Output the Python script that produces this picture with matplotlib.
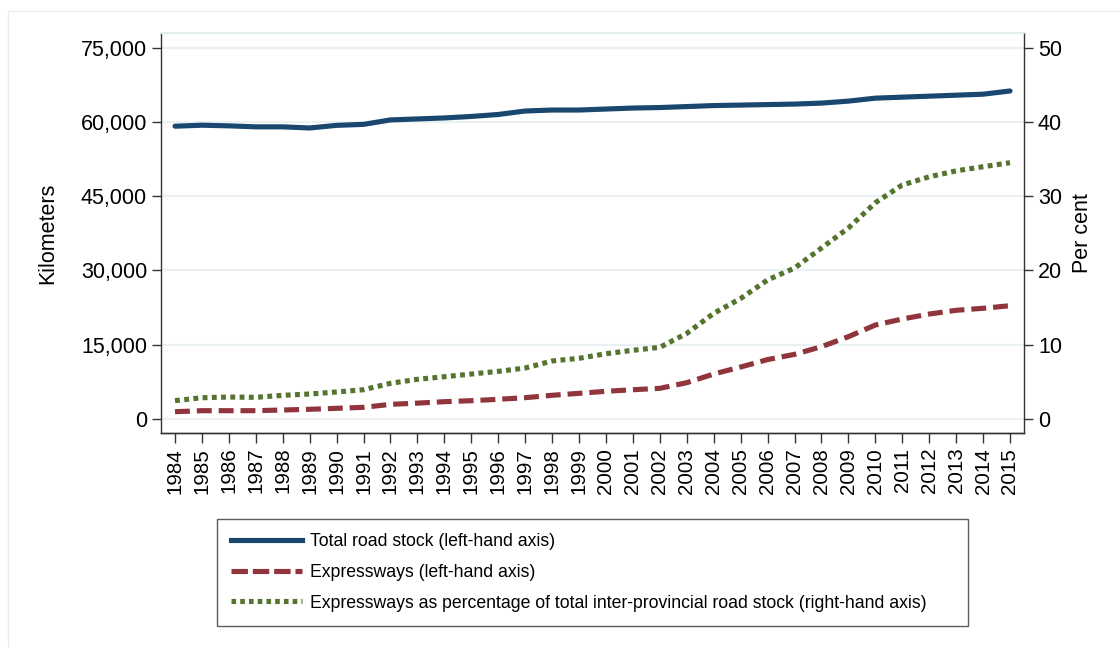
import matplotlib
matplotlib.use("Agg")
import matplotlib.pyplot as plt
from matplotlib.ticker import FuncFormatter, FixedLocator
from matplotlib.patches import Rectangle
from matplotlib.lines import Line2D

plt.rcParams['font.family'] = ['Liberation Sans', 'DejaVu Sans']

years = list(range(1984, 2016))
total_road_km = [59130, 59330, 59200, 59000, 59000, 58770, 59300, 59500, 60400, 60600,
                 60800, 61100, 61500, 62200, 62400, 62400, 62600, 62800, 62900, 63100,
                 63300, 63400, 63500, 63600, 63800, 64200, 64800, 65000, 65200, 65400,
                 65600, 66250]
expressway_km = [1415, 1620, 1620, 1620, 1760, 1900, 2100, 2300, 2900, 3150,
                 3440, 3640, 3920, 4250, 4730, 5130, 5540, 5860, 6140, 7280,
                 9040, 10450, 11950, 13010, 14560, 16580, 18940, 20150, 21160, 21910,
                 22320, 22840]
expressway_pct = [2.43, 2.83, 2.92, 2.88, 3.15, 3.33, 3.6, 3.91, 4.77, 5.31,
                  5.66, 6.02, 6.38, 6.83, 7.78, 8.14, 8.76, 9.22, 9.62, 11.5,
                  14.2, 16.2, 18.7, 20.3, 23.0, 25.7, 29.1, 31.5, 32.6, 33.4,
                  33.96, 34.5]
left_ticks = [0, 15000, 30000, 45000, 60000, 75000]
right_ticks = [0, 10, 20, 30, 40, 50]
labels = ["Total road stock (left-hand axis)",
          "Expressways (left-hand axis)",
          "Expressways as percentage of total inter-provincial road stock (right-hand axis)"]

navy = "#1a476f"
maroon = "#90353b"
green = "#55752f"
dark = "#333333"
grid_c = "#e9f1f3"

fig = plt.figure(figsize=(11.2, 6.47), dpi=100)
# faint outer frame (visible at left/top)
fig.patches.append(Rectangle((8/1120, -0.1), 2.0, 1 - 11/647 + 0.1, transform=fig.transFigure,
                             fill=False, edgecolor="#e6ecee", linewidth=1.0))

ax = fig.add_axes([161/1120, 1 - 433/647, (1024 - 161)/1120, (433 - 33)/647])
ax2 = ax.twinx()

ylo, yhi = -2890, 77970
ax.set_ylim(ylo, yhi)
ax2.set_ylim(ylo / 1500, yhi / 1500)
ax.set_xlim(1983.48, 2015.52)

ax.yaxis.set_major_locator(FixedLocator(left_ticks))
ax.yaxis.set_major_formatter(FuncFormatter(lambda v, p: f"{int(v):,}"))
ax2.yaxis.set_major_locator(FixedLocator(right_ticks))
ax.set_xticks(years)
ax.set_xticklabels([str(y) for y in years], rotation=90)

ax.grid(axis='y', color=grid_c, linewidth=1.5)
ax.set_axisbelow(True)

lw = 3.7
ax.plot(years, total_road_km, color=navy, linewidth=lw, solid_capstyle='round', zorder=3)
ax.plot(years, expressway_km, color=maroon, linewidth=lw, dashes=(2.9, 1.35),
        dash_capstyle='butt', zorder=3)
ax2.plot(years, expressway_pct, color=green, linewidth=lw, dashes=(0.95, 0.85),
         dash_capstyle='butt', zorder=3)

for a in (ax, ax2):
    for s in ('left', 'right', 'bottom'):
        a.spines[s].set_color(dark)
        a.spines[s].set_linewidth(1.0)
    a.spines['top'].set_color("#e3ecee")
    a.spines['top'].set_linewidth(1.2)
    a.tick_params(axis='y', direction='out', length=6.5, width=1.0, color=dark,
                  labelsize=15.5, labelcolor='black', pad=3.5)
ax.tick_params(axis='x', direction='out', length=7.2, width=1.0, color=dark,
               labelsize=14.8, labelcolor='black', pad=3.5)
ax2.spines['left'].set_visible(False)
ax.spines['right'].set_visible(False)

ax.set_ylabel("Kilometers", fontsize=15.5)
ax.yaxis.set_label_coords((58 - 161) / 863, 0.5)
ax2.set_ylabel("Per cent", fontsize=15.5)
ax2.yaxis.set_label_coords((1072 - 161) / 863, 0.5)

handles = [Line2D([], [], color=navy, linewidth=lw),
           Line2D([], [], color=maroon, linewidth=lw, dashes=(3.2, 0.95), dash_capstyle='butt'),
           Line2D([], [], color=green, linewidth=lw, dashes=(0.9, 0.8), dash_capstyle='butt')]
leg = fig.legend(handles, labels, loc='upper left',
                 bbox_to_anchor=(217/1120, 1 - 623/647, (968 - 217)/1120, (623 - 519)/647),
                 mode='expand', fontsize=12.7, frameon=True, fancybox=False,
                 handlelength=4.0, handletextpad=0.45, labelspacing=0.78,
                 borderpad=0.8, borderaxespad=0)
leg.get_frame().set_edgecolor(dark)
leg.get_frame().set_linewidth(1.0)

fig.savefig("out.png", dpi=100)
